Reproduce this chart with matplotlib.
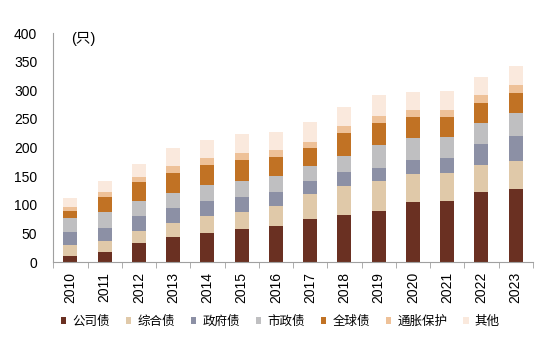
import matplotlib
matplotlib.use("Agg")
import matplotlib.pyplot as plt
import numpy as np

plt.rcParams['font.family'] = ['Liberation Sans', 'Noto Sans CJK SC', 'DejaVu Sans']

years = ['2010', '2011', '2012', '2013', '2014', '2015', '2016', '2017',
         '2018', '2019', '2020', '2021', '2022', '2023']
series_names = ['公司债', '综合债', '政府债', '市政债', '全球债', '通胀保护', '其他']
corporate = [10, 17, 34, 43, 51, 57, 63, 75, 83, 90, 104, 107, 122, 128]
composite = [20, 20, 21, 26, 29, 31, 35, 43, 50, 52, 50, 49, 48, 48]
government = [23, 23, 26, 26, 26, 25, 24, 23, 24, 23, 25, 25, 37, 45]
municipal = [24, 27, 25, 26, 28, 29, 28, 26, 28, 39, 38, 37, 36, 40]
global_bond = [13, 26, 33, 35, 35, 37, 33, 32, 40, 39, 36, 35, 34, 34]
inflation = [7, 10, 10, 11, 12, 12, 12, 11, 13, 12, 12, 12, 14, 15]
other = [15, 19, 23, 33, 33, 33, 33, 35, 33, 36, 32, 33, 33, 32]
yticks = [0, 50, 100, 150, 200, 250, 300, 350, 400]

colors = ['#6A3022', '#E0C9A9', '#8C90A5', '#BFBFC1', '#C17224', '#EEC198', '#FAE9DD']
data = [corporate, composite, government, municipal, global_bond, inflation, other]

fig = plt.figure(figsize=(5.55, 3.56), dpi=100)
ax = fig.add_axes([0.096, 0.264, 0.864, 0.643])

x = np.arange(len(years))
bottom = np.zeros(len(years))
handles = []
for name, vals, c in zip(series_names, data, colors):
    h = ax.bar(x, vals, 0.41, bottom=bottom, color=c, label=name, linewidth=0)
    handles.append(h)
    bottom += np.array(vals)

ax.set_xlim(-0.5, len(years) - 0.5)
ax.set_ylim(0, 400)
ax.set_yticks(yticks)
ax.set_yticklabels([str(v) for v in yticks], fontsize=10)
ax.tick_params(axis='y', length=0, pad=11.5)
ax.set_xticks(x)
ax.set_xticklabels(years, rotation=90, fontsize=10)
ax.set_xticks(np.arange(-0.5, len(years), 1.0), minor=True)
ax.tick_params(axis='x', which='major', length=0, pad=7)
ax.tick_params(axis='x', which='minor', length=4, color='#A0A0A0', direction='out')

for s in ['top', 'right']:
    ax.spines[s].set_visible(False)
ax.spines['left'].set_color('#A0A0A0')
ax.spines['bottom'].set_color('#A0A0A0')

ax.text(0.038, 1.005, '(只)', transform=ax.transAxes, fontsize=10.5, va='top', ha='left')

leg = fig.legend(handles=handles, labels=series_names, loc='center',
                 bbox_to_anchor=(0.505, 0.095), ncol=7, frameon=False,
                 fontsize=9, handlelength=0.45, handleheight=0.45,
                 handletextpad=0.5, columnspacing=1.25)

fig.savefig('out.png', dpi=100)
